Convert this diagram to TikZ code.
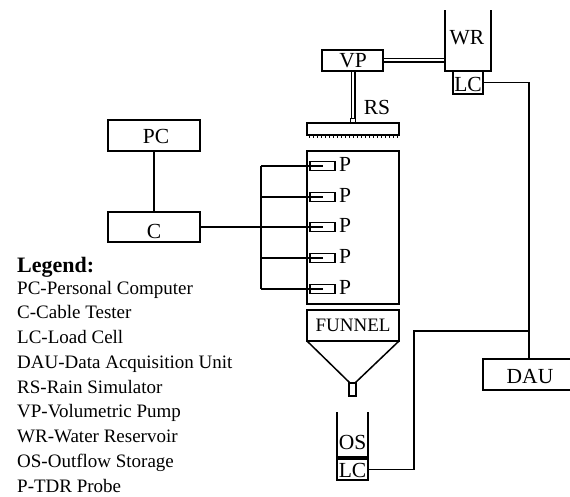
\documentclass[tikz,border=0pt]{standalone}
\usepackage{fontspec}
\setmainfont{Liberation Serif}
\usetikzlibrary{positioning}
\tikzset{
	unitbox/.style={draw,line width=1.5pt,inner sep=0pt,outer sep=0pt,anchor=north west},
	wire/.style={line width=1.5pt},
	probebox/.style={draw,line width=1.5pt,minimum width=25pt,minimum height=9pt,inner sep=0pt,outer sep=0pt},
	lbl/.style={inner sep=0pt,font=\fontsize{21.5}{22}\selectfont},
	legendline/.style={inner sep=0pt,anchor=base west,font=\fontsize{19}{19}\selectfont}
}
\begin{document}
\begin{tikzpicture}[x=1pt,y=-1pt]
	\useasboundingbox (0,0) rectangle (570,496);
	% computer side
	\node[unitbox,minimum width=92pt,minimum height=31pt] (pc) at (108,120) {};
	\node[unitbox,minimum width=92pt,minimum height=30pt] (c) at (108,212) {};
	\node[lbl] at (156,136) {PC};
	\node[lbl] at (154,231) {C};
	\draw[wire] (pc) -- (c);
	% column
	\node[unitbox,minimum width=92pt,minimum height=153pt] (column) at (307,151) {};
	\foreach \n/\y in {1/166,2/197,3/227,4/258,5/289}{
		\node[probebox] (p\n) at (322.5,\y) {};
		\node[lbl,anchor=west] (pl\n) at (339,\y-2) {P};
	}
	\coordinate (bustop) at (261,166);
	\coordinate (busbot) at (261,289);
	\draw[wire] (bustop) -- (busbot);
	\foreach \n in {1,...,5}
		\draw[wire] (bustop |- p\n) -- (p\n.center);
	\draw[wire] (c.east) -- (bustop |- c.east);
	% rain simulator
	\node[unitbox,minimum width=61pt,minimum height=21pt] (vp) at (322,50) {};
	\node[lbl] at (353,61) {VP};
	\node[unitbox,minimum width=92pt,minimum height=12pt] (rs) at (307,123) {};
	\foreach \x in {309,313,...,397}
		\draw[line width=1pt] (\x,135) -- (\x,137.5);
	\node[draw,line width=1pt,minimum width=5pt,minimum height=5pt,inner sep=0pt] (nozzle) at (353,120.5) {};
	\draw[wire] (351.5,71) -- (351.5,118) (355,71) -- (355,118);
	\node[lbl] at (377,107) {RS};
	% reservoir
	\coordinate (wrtl) at (445,10);
	\coordinate (wrtr) at (491,10);
	\draw[wire] (wrtl) -- (445,71) -- (491,71) -- (wrtr);
	\node[lbl] at (467,38) {WR};
	\node[unitbox,minimum width=30pt,minimum height=23pt] (lca) at (453,71) {};
	\node[lbl] at (468,84) {LC};
	\draw[wire] (383,58.5) -- (445,58.5) (383,62) -- (445,62);
	% funnel
	\node[unitbox,minimum width=92pt,minimum height=31pt] (funnel) at (307,310) {};
	\node[lbl,font=\fontsize{19}{19}\selectfont] at (353,325) {FUNNEL};
	\draw[wire] (funnel.south west) -- (350,383) -- (355,383) -- (funnel.south east);
	\node[unitbox,minimum width=7pt,minimum height=13pt] (spout) at (349,383) {};
	% outflow
	\coordinate (ostl) at (337,412);
	\coordinate (ostr) at (368,412);
	\draw[wire] (ostl) -- (337,457) -- (368,457) -- (ostr);
	\draw[line width=2pt] (337,457) -- (368,457);
	\node[lbl] at (352.5,442) {OS};
	\node[unitbox,minimum width=31pt,minimum height=21pt] (lcb) at (337,459) {};
	\node[lbl] at (352.5,470) {LC};
	% acquisition
	\node[unitbox,minimum width=90pt,minimum height=31pt] (dau) at (483,359) {};
	\node[lbl] at (530,377) {DAU};
	\coordinate (daujoin) at (529,331);
	\coordinate (osturn) at (414,331);
	\draw[wire] (lca.east) -| (daujoin) -- (daujoin |- dau.north);
	\draw[wire] (lcb.east) -| (osturn) -- (daujoin);
	% legend
	\node[inner sep=0pt,anchor=base west,font=\fontsize{22}{22}\selectfont\bfseries] at (17,272.5) {Legend:};
	\foreach \t [count=\i from 0] in {PC-Personal Computer,C-Cable Tester,LC-Load Cell,DAU-Data Acquisition Unit,RS-Rain Simulator,VP-Volumetric Pump,WR-Water Reservoir,OS-Outflow Storage,P-TDR Probe}
		\node[legendline] at (17,294+24.75*\i) {\t};
\end{tikzpicture}
\end{document}
